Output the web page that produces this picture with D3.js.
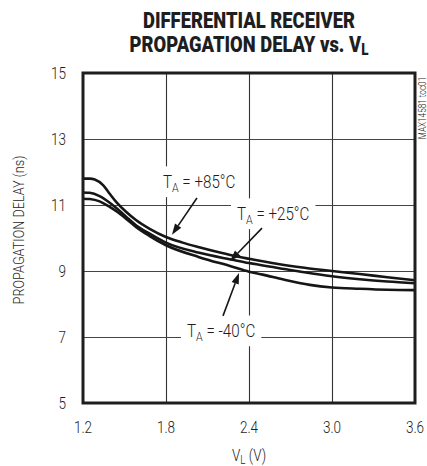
<!DOCTYPE html>
<html><head><meta charset="utf-8">
<script src="https://cdn.jsdelivr.net/npm/d3@7"></script>
<style>
body{margin:0;background:#fff;}
text{font-family:Roboto,"Liberation Sans",sans-serif;font-weight:300;fill:#1e1e1e;}
</style></head>
<body>
<svg id="c" width="427" height="466"></svg>
<script>
const xTicks = [1.2, 1.8, 2.4, 3.0, 3.6];
const yTicks = [5, 7, 9, 11, 13, 15];
const xTickLabels = ["1.2", "1.8", "2.4", "3.0", "3.6"];

const v85 = [1.2, 1.25, 1.285, 1.345, 1.393, 1.441, 1.513, 1.585, 1.682, 1.8, 1.92, 2.04, 2.16, 2.28, 2.4, 2.6, 2.8, 3.0, 3.2, 3.4, 3.6];
const d85 = [11.80, 11.80, 11.77, 11.60, 11.34, 11.09, 10.79, 10.54, 10.28, 10.03, 9.86, 9.72, 9.59, 9.47, 9.37, 9.22, 9.10, 9.00, 8.91, 8.81, 8.72];

const v25 = [1.2, 1.248, 1.32, 1.393, 1.441, 1.513, 1.585, 1.682, 1.8, 2.04, 2.28, 2.4, 2.6, 2.8, 3.0, 3.2, 3.4, 3.6];
const d25 = [11.38, 11.37, 11.27, 11.07, 10.91, 10.64, 10.38, 10.13, 9.86, 9.55, 9.34, 9.24, 9.10, 8.96, 8.84, 8.75, 8.68, 8.63];

const vm40 = [1.2, 1.248, 1.32, 1.393, 1.441, 1.513, 1.585, 1.682, 1.8, 2.04, 2.28, 2.4, 2.5, 2.65, 2.84, 3.0, 3.2, 3.4, 3.6];
const dm40 = [11.19, 11.18, 11.11, 10.94, 10.81, 10.58, 10.33, 10.06, 9.78, 9.42, 9.13, 8.98, 8.89, 8.74, 8.58, 8.50, 8.46, 8.43, 8.42];

const seriesNames = ["+85°C", "+25°C", "-40°C"];
// label anchor [V, ns], arrow start [V, ns], arrow tip [V, ns]
const labelPos = [[1.778, 11.52], [2.313, 10.55], [1.952, 7.0]];
const arrowFrom = [[2.024, 11.21], [2.494, 10.30], [2.212, 7.64]];
const arrowTo = [[1.843, 10.10], [2.263, 9.30], [2.328, 8.94]];

const svg = d3.select("#c");
const x = d3.scaleLinear().domain([1.2, 3.6]).range([83, 415]);
const y = d3.scaleLinear().domain([5, 15]).range([403, 73]);
const SX = 0.82;

// helper: condensed text group
function ctext(parent, px, py, opts) {
  const o = Object.assign({anchor: "start", size: 16, sx: SX, rot: 0, weight: 300}, opts || {});
  const gg = parent.append("g").attr("transform", `translate(${px},${py}) rotate(${o.rot}) scale(${o.sx},1)`);
  const t = gg.append("text").attr("text-anchor", o.anchor).style("font-size", o.size + "px").style("font-weight", o.weight);
  return {g: gg, t: t};
}

// grid
const g = svg.append("g");
g.selectAll(".vg").data(xTicks.slice(1, -1)).enter().append("line")
  .attr("x1", d => Math.round(x(d)) + 0.5).attr("x2", d => Math.round(x(d)) + 0.5)
  .attr("y1", y(5)).attr("y2", y(15)).attr("stroke", "#333").attr("stroke-width", 1.1);
g.selectAll(".hg").data(yTicks.slice(1, -1)).enter().append("line")
  .attr("y1", d => Math.round(y(d)) + 0.5).attr("y2", d => Math.round(y(d)) + 0.5)
  .attr("x1", x(1.2)).attr("x2", x(3.6)).attr("stroke", "#444").attr("stroke-width", 1.1);

// title
{
  const a = ctext(svg, 249, 28, {anchor: "middle", size: 22, weight: 900, sx: 1});
  a.t.text("DIFFERENTIAL RECEIVER");
  const w = a.t.node().getBBox().width;
  const s = 212 / w;
  a.g.attr("transform", `translate(249,28) scale(${s},1)`);
  const b = ctext(svg, 249, 52, {anchor: "middle", size: 22, weight: 900, sx: s});
  b.t.append("tspan").text("PROPAGATION DELAY vs. V");
  b.t.append("tspan").attr("dy", 3).style("font-size", "16px").text("L");
}

// axis tick labels
yTicks.forEach(d => { ctext(svg, 66, y(d) + 6, {anchor: "end", size: 16.5}).t.text(d); });
xTicks.forEach((d, i) => { ctext(svg, x(d), 433, {anchor: "middle", size: 16.5}).t.text(xTickLabels[i]); });

// axis titles
{
  const a = ctext(svg, 249, 461, {anchor: "middle", size: 16.5});
  a.t.append("tspan").text("V");
  a.t.append("tspan").attr("dy", 3).style("font-size", "12px").text("L");
  a.t.append("tspan").attr("dy", -3).text(" (V)");
  ctext(svg, 24, 230, {anchor: "middle", size: 15.5, rot: -90}).t.text("PROPAGATION DELAY (ns)");
  ctext(svg, 426, 108, {anchor: "middle", size: 10, rot: -90}).t.text("MAX14581 toc01");
}

const labelsG = svg.append("g");
const curvesG = svg.append("g");
const annoG = svg.append("g");

const series = [[v85, d85], [v25, d25], [vm40, dm40]];
const line = d3.line().x(d => x(d[0])).y(d => y(d[1])).curve(d3.curveMonotoneX);
series.forEach(([vs, ds]) => {
  curvesG.append("path").datum(vs.map((v, i) => [v, ds[i]]))
    .attr("d", line).attr("fill", "none").attr("stroke", "#161616").attr("stroke-width", 2.6);
});

// frame
svg.append("rect").attr("x", x(1.2)).attr("y", y(15)).attr("width", x(3.6) - x(1.2)).attr("height", y(5) - y(15))
  .attr("fill", "none").attr("stroke", "#1e1e1e").attr("stroke-width", 3);

seriesNames.forEach((name, i) => {
  const px = x(labelPos[i][0]), py = y(labelPos[i][1]);
  const a = ctext(annoG, px, py, {size: 18.5});
  a.t.append("tspan").text("T");
  a.t.append("tspan").attr("dy", 4).style("font-size", "13px").text("A");
  a.t.append("tspan").attr("dy", -4).text(" = " + name);
  const bb = a.t.node().getBBox();
  labelsG.append("rect").attr("x", px + bb.x * SX - 6).attr("y", py + bb.y - 4)
    .attr("width", bb.width * SX + 12).attr("height", bb.height + 6).attr("fill", "#fff");
});

// arrows
arrowFrom.forEach((f, i) => {
  const x1 = x(f[0]), y1 = y(f[1]), x2 = x(arrowTo[i][0]), y2 = y(arrowTo[i][1]);
  const ang = Math.atan2(y2 - y1, x2 - x1);
  const L = 11, W = 3.8;
  const bx = x2 - L * Math.cos(ang), by = y2 - L * Math.sin(ang);
  annoG.append("line").attr("x1", x1).attr("y1", y1).attr("x2", bx).attr("y2", by)
    .attr("stroke", "#161616").attr("stroke-width", 1.6);
  annoG.append("path").attr("d", `M${x2},${y2}L${bx + W * Math.sin(ang)},${by - W * Math.cos(ang)}L${bx - W * Math.sin(ang)},${by + W * Math.cos(ang)}Z`)
    .attr("fill", "#161616");
});
</script>
</body></html>
